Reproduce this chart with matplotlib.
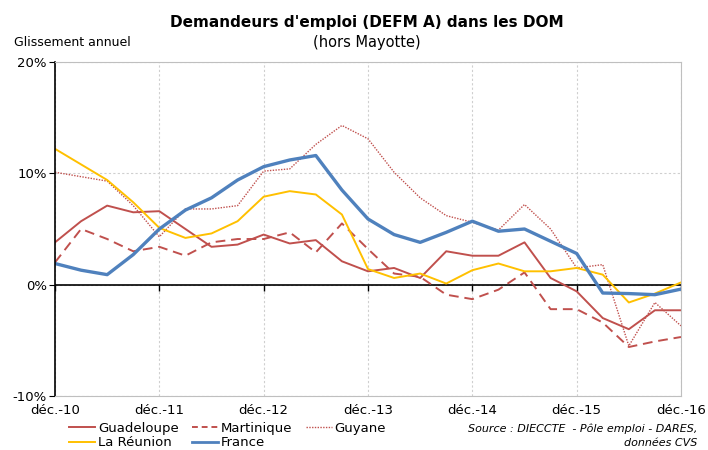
import numpy as np
import matplotlib.pyplot as plt
from matplotlib.lines import Line2D

# quarterly points, déc.-10 to déc.-16
year_labels = ['déc.-10', 'déc.-11', 'déc.-12', 'déc.-13', 'déc.-14', 'déc.-15', 'déc.-16']

guadeloupe = [3.8, 5.7, 7.1, 6.5, 6.6, 5.0, 3.4, 3.6, 4.5, 3.7, 4.0, 2.1, 1.2,
              1.5, 0.6, 3.0, 2.6, 2.6, 3.8, 0.6, -0.6, -3.0, -4.0, -2.3, -2.3]
martinique = [2.0, 5.0, 4.1, 3.0, 3.4, 2.6, 3.8, 4.1, 4.1, 4.7, 2.9, 5.5, 3.2,
              1.0, 0.7, -0.9, -1.3, -0.45, 1.1, -2.2, -2.2, -3.4, -5.6, -5.1, -4.7]
guyane = [10.1, 9.7, 9.3, 7.1, 4.3, 6.8, 6.8, 7.1, 10.2, 10.4, 12.6, 14.3, 13.1,
          10.1, 7.8, 6.2, 5.6, 4.9, 7.2, 5.0, 1.5, 1.8, -5.5, -1.6, -3.7]
reunion = [12.2, 10.8, 9.4, 7.4, 5.1, 4.2, 4.6, 5.7, 7.9, 8.4, 8.1, 6.3, 1.4,
           0.6, 1.0, 0.1, 1.3, 1.9, 1.2, 1.2, 1.5, 0.9, -1.6, -0.8, 0.2]
france = [1.9, 1.3, 0.9, 2.7, 5.0, 6.7, 7.8, 9.4, 10.6, 11.2, 11.6, 8.5, 5.9,
          4.5, 3.8, 4.7, 5.7, 4.8, 5.0, 3.9, 2.8, -0.75, -0.8, -0.9, -0.4]

red = '#C0504D'
blue = '#4F81BD'
yellow = '#FFC000'

plt.rcParams['font.family'] = ['DejaVu Sans']

fig = plt.figure(figsize=(7.08, 4.5), dpi=100)
ax = fig.add_axes([55 / 708, 1 - 396 / 450, 626 / 708, 334 / 450])

x = np.arange(len(france))
year_pos = np.arange(0, len(france), 4)

ax.plot(x, guadeloupe, color=red, lw=1.4, label='Guadeloupe')
ax.plot(x, martinique, color=red, lw=1.4, ls=(0, (5, 3)), label='Martinique')
ax.plot(x, guyane, color=red, lw=1.0, ls=(0, (1, 1)), label='Guyane')
ax.plot(x, reunion, color=yellow, lw=1.4, label='La Réunion')
ax.plot(x, france, color=blue, lw=2.4, label='France')

# zero line with small downward ticks at each year
ax.axhline(0, color='black', lw=1.2, zorder=1)
ax.plot(year_pos, np.zeros(len(year_pos)), ls='none', marker=3, ms=4,
        color='black', mew=1.0, zorder=1)

ax.set_xlim(0, 24)
ax.set_ylim(-10, 20)
ax.set_xticks(year_pos)
ax.set_xticklabels(year_labels, fontsize=9.5)
ax.tick_params(axis='x', length=0, pad=6)
ax.set_yticks([-10, 0, 10, 20])
ax.set_yticklabels(['-10%', '0%', '10%', '20%'], fontsize=9.5)
ax.tick_params(axis='y', length=4, color='black', pad=2)

ax.grid(True, color='#cfcfcf', ls=(0, (2, 2)), lw=0.8)
ax.set_axisbelow(True)
for s in ['top', 'right', 'bottom']:
    ax.spines[s].set_color('#bfbfbf')
ax.spines['left'].set_color('black')
ax.spines['left'].set_linewidth(1.2)

fig.text(367 / 708, 1 - 22 / 450, "Demandeurs d'emploi (DEFM A) dans les DOM",
         ha='center', va='center', fontsize=11, fontweight='bold')
fig.text(367 / 708, 1 - 43 / 450, '(hors Mayotte)', ha='center', va='center', fontsize=10.5)
fig.text(14 / 708, 1 - 43 / 450, 'Glissement annuel', ha='left', va='center', fontsize=9)

handles = [
    Line2D([], [], color=red, lw=1.4),
    Line2D([], [], color=yellow, lw=1.4),
    Line2D([], [], color=red, lw=1.4, ls=(0, (3, 2))),
    Line2D([], [], color=blue, lw=2.0),
    Line2D([], [], color=red, lw=1.0, ls=(0, (1, 1))),
]
labels = ['Guadeloupe', 'La Réunion', 'Martinique', 'France', 'Guyane']
fig.legend(handles, labels, ncol=3, loc='upper left',
           bbox_to_anchor=(69 / 708, 1 - 422 / 450), frameon=False,
           fontsize=9.5, handlelength=2.0, handletextpad=0.2,
           columnspacing=1.0, labelspacing=0.1, borderaxespad=0, borderpad=0)

fig.text(697 / 708, 1 - 429 / 450, 'Source : DIECCTE  - Pôle emploi - DARES,',
         ha='right', va='center', fontsize=8, style='italic')
fig.text(697 / 708, 1 - 443 / 450, 'données CVS',
         ha='right', va='center', fontsize=8, style='italic')

fig.savefig('out.png', dpi=100)
